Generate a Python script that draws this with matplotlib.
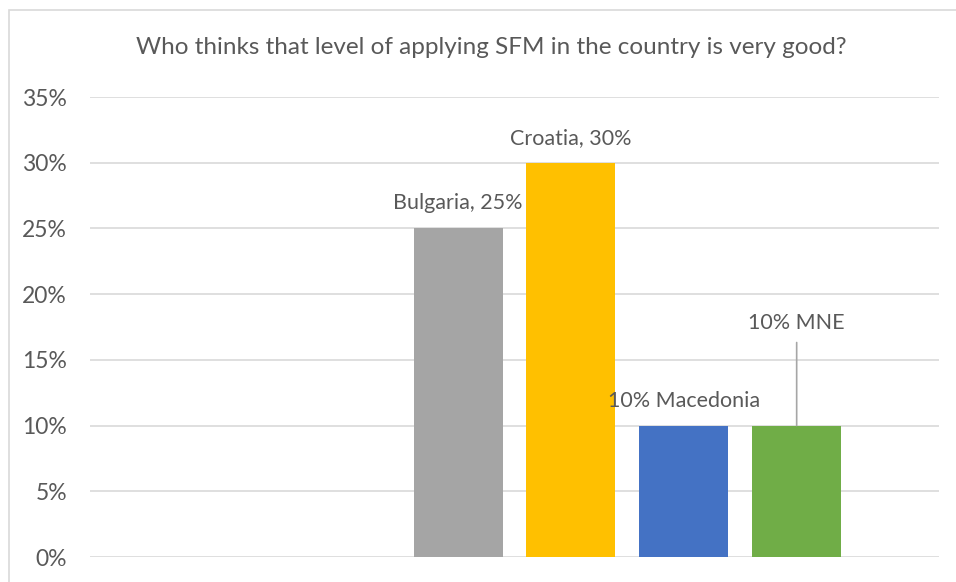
import matplotlib.pyplot as plt
from matplotlib.patches import Rectangle
from matplotlib.ticker import PercentFormatter

plt.rcParams['font.family'] = ['Lato', 'DejaVu Sans']

# six series slots in the cluster, first two are empty
slots = [0, 1, 2, 3, 4, 5]
countries = ['Bulgaria', 'Croatia', 'Macedonia', 'MNE']
values = [25, 30, 10, 10]
positions = [2, 3, 4, 5]
labels = ['Bulgaria, 25%', 'Croatia, 30%', '10% Macedonia', '10% MNE']
colors = ['#A5A5A5', '#FFC000', '#4472C4', '#70AD47']
yticks = [0, 5, 10, 15, 20, 25, 30, 35]

txt = '#595959'
fig = plt.figure(figsize=(9.56, 5.82), dpi=100)
ax = fig.add_axes([90/956, 1-557/582, (939-90)/956, (557-97)/582])

bw = 0.788
ax.bar(positions, values, width=bw, color=colors, zorder=3)

for x, v, lab in zip(positions, values, labels):
    if lab.endswith('MNE'):
        ax.annotate(lab, xy=(x, v), xytext=(0, 74), textcoords='offset points',
                    ha='center', va='center', fontsize=15.5, color=txt,
                    arrowprops=dict(arrowstyle='-', color='#A6A6A6', lw=1.2,
                                    shrinkA=5, shrinkB=0))
    else:
        ax.annotate(lab, xy=(x, v), xytext=(0, 18), textcoords='offset points',
                    ha='center', va='center', fontsize=15.5, color=txt)

ax.set_xlim(-1.261, 6.261)
ax.set_ylim(0, 35)
ax.set_yticks(yticks)
ax.yaxis.set_major_formatter(PercentFormatter(decimals=0))
ax.set_xticks([])
ax.tick_params(axis='y', length=0, pad=16.5, labelsize=16.5, labelcolor=txt)
ax.grid(axis='y', color='#D9D9D9', lw=1.2, zorder=0)
for s in ax.spines.values():
    s.set_visible(False)

fig.text(491/956, 1-47/582, 'Who thinks that level of applying SFM in the country is very good?',
         ha='center', va='center', fontsize=17.5, color=txt)

# chart frame, cut off at right and bottom
fig.patches.append(Rectangle((9/956, -0.1), 1.2, 1 - 10/582 + 0.1, transform=fig.transFigure,
                             fill=False, edgecolor='#D9D9D9', lw=1.2))

fig.savefig('out.png', dpi=100)
